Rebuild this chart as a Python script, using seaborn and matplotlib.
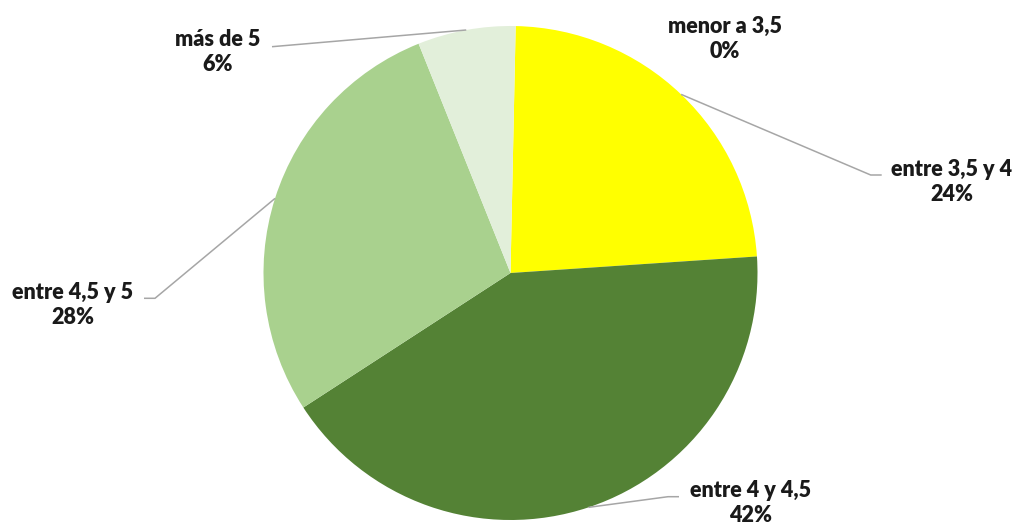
import numpy as np
import matplotlib
matplotlib.use("Agg")
import matplotlib.pyplot as plt
import seaborn as sns

categories = ["menor a 3,5", "entre 3,5 y 4", "entre 4 y 4,5", "entre 4,5 y 5", "más de 5"]
values = [0.0, 23.6, 41.9, 28.1, 6.4]
colors = ["#FFFF00", "#FFFF00", "#548235", "#A9D18E", "#E2EFDA"]

sns.set_theme(style="white")
plt.rcParams['font.family'] = ['Lato', 'DejaVu Sans']

W, H = 1016, 522
fig = plt.figure(figsize=(W / 100, H / 100), dpi=100)
ax = fig.add_axes([0, 0, 1, 1])

cx, cy, r = 510.5, H - 273, 247
wedges, _ = ax.pie(values, colors=colors, startangle=90 - 1.2, counterclock=False,
                   center=(cx, cy), radius=r, wedgeprops=dict(linewidth=0), frame=True)
ax.set_xlim(0, W)
ax.set_ylim(0, H)
ax.axis('off')

# label layout (top-down pixel coords): text center, elbow, line end near text
layout = {
    "menor a 3,5": dict(text=(725, 39), elbow=None, end=None),
    "entre 3,5 y 4": dict(text=(952, 182), elbow=(870.7, 175), end=(881.7, 175)),
    "entre 4 y 4,5": dict(text=(751, 503), elbow=(668, 496.7), end=(679, 496.7)),
    "entre 4,5 y 5": dict(text=(73, 305), elbow=(155, 298.3), end=(144, 298.3)),
    "más de 5": dict(text=(218, 52), elbow=(272, 46.7), end=(272, 46.7)),
}

line_col = "#A6A6A6"
for w, cat, v in zip(wedges, categories, values):
    L = layout[cat]
    tx, ty = L["text"]
    ax.text(tx, H - ty, f"{cat}\n{round(v):.0f}%", ha="center", va="center",
            fontsize=15.5, fontweight="heavy", color="#1A1A1A", linespacing=1.2)
    if L["elbow"] is not None and v > 0:
        th = np.deg2rad((w.theta1 + w.theta2) / 2)
        ax_, ay_ = cx + r * np.cos(th), cy + r * np.sin(th)
        ex, ey = L["elbow"]
        nx, ny = L["end"]
        ax.plot([ax_, ex, nx], [ay_, H - ey, H - ny], color=line_col, lw=1.1,
                solid_capstyle="butt", clip_on=False)

fig.savefig("out.png", dpi=100)
